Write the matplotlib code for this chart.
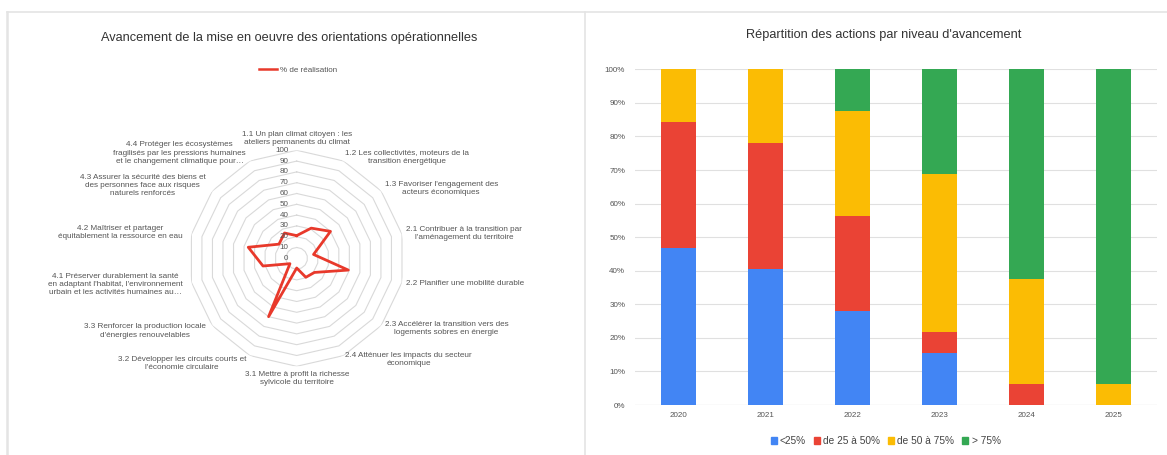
import numpy as np
import matplotlib
matplotlib.use("Agg")
import matplotlib.pyplot as plt
import matplotlib.transforms as mtransforms
from matplotlib.lines import Line2D
from matplotlib.patches import Patch

plt.rcParams['font.family'] = ['Liberation Sans', 'DejaVu Sans']

# Radar data: % de réalisation per orientation (clockwise from the top)
orientations = [
    "1.1 Un plan climat citoyen : les\nateliers permanents du climat",
    "1.2 Les collectivités, moteurs de la\ntransition énergétique",
    "1.3 Favoriser l'engagement des\nacteurs économiques",
    "2.1 Contribuer à la transition par\nl'aménagement du territoire",
    "2.2 Planifier une mobilité durable",
    "2.3 Accélérer la transition vers des\nlogements sobres en énergie",
    "2.4 Atténuer les impacts du secteur\néconomique",
    "3.1 Mettre à profit la richesse\nsylvicole du territoire",
    "3.2 Développer les circuits courts et\nl'économie circulaire",
    "3.3 Renforcer la production locale\nd'énergies renouvelables",
    "4.1 Préserver durablement la santé\nen adaptant l'habitat, l'environnement\nurbain et les activités humaines au…",
    "4.2 Maîtriser et partager\néquitablement la ressource en eau",
    "4.3 Assurer la sécurité des biens et\ndes personnes face aux risques\nnaturels renforcés",
    "4.4 Protéger les écosystèmes\nfragilisés par les pressions humaines\net le changement climatique pour…",
]
realisation = [21, 31, 40, 16, 49, 21, 19.5, 9, 60, 8, 32, 46, 21, 26]
radial_ticks = [0, 10, 20, 30, 40, 50, 60, 70, 80, 90, 100]

# Bar data: number of actions per progress level and year
years = ["2020", "2021", "2022", "2023", "2024", "2025"]
levels = ["<25%", "de 25 à 50%", "de 50 à 75%", "> 75%"]
lt25 = [15, 13, 9, 5, 0, 0]
from25to50 = [12, 12, 9, 2, 2, 0]
from50to75 = [5, 7, 10, 15, 10, 2]
gt75 = [0, 0, 4, 10, 20, 30]
level_colors = ["#4285F4", "#EA4335", "#FBBC04", "#34A853"]

W, H = 1167, 455
fig = plt.figure(figsize=(W / 100, H / 100), dpi=100)

# panel borders
border = "#e4e4e4"
fig.add_artist(Line2D([7 / W, 1], [1 - 12 / H] * 2, color=border, lw=1.2))
fig.add_artist(Line2D([7 / W] * 2, [0, 1 - 12 / H], color=border, lw=1.8))
fig.add_artist(Line2D([585 / W] * 2, [0, 1 - 12 / H], color=border, lw=1.2))

label_color = "#555555"

# ---- Radar chart ----
cx, cy, rad = 296.7, 258.3, 108
ax = fig.add_axes([(cx - rad) / W, (H - cy - rad) / H, 2 * rad / W, 2 * rad / H],
                  projection='polar')
ax.set_theta_zero_location('N')
ax.set_theta_direction(-1)
ax.set_ylim(0, 100)
ax.grid(False)
ax.set_xticks([])
ax.set_yticks([])
ax.spines['polar'].set_visible(False)
ax.patch.set_alpha(0)

n = len(orientations)
angles = np.arange(n) * 2 * np.pi / n
closed = np.append(angles, angles[0])

for r in radial_ticks[1:]:
    ax.plot(closed, [r] * (n + 1), color="#d9d9d9", lw=0.8, zorder=1)

vals = realisation + realisation[:1]
ax.plot(closed, vals, color="#E8392B", lw=2.0, zorder=3)

shift = ax.transData + mtransforms.ScaledTranslation(-8.5 / 100, 0, fig.dpi_scale_trans)
for v in radial_ticks:
    ax.text(0, v, str(v), transform=shift, ha='right', va='center',
            fontsize=5.8, color=label_color)

for ang, lab in zip(angles, orientations):
    s = np.sin(ang)
    if abs(s) < 0.1:
        va = 'bottom' if np.cos(ang) > 0 else 'top'
        ax.text(ang, 104, lab, ha='center', va=va, multialignment='center',
                fontsize=5.9, color=label_color, linespacing=1.25)
    else:
        ha = 'left' if s > 0 else 'right'
        r_lab = 104 if s > 0 else 108
        ax.text(ang, r_lab, lab, ha=ha, va='center', multialignment='center',
                fontsize=5.9, color=label_color, linespacing=1.25)

fig.text(289 / W, 1 - 38 / H, "Avancement de la mise en oeuvre des orientations opérationnelles",
         ha='center', va='center', fontsize=9.2, color="#333333")
fig.legend(handles=[Line2D([], [], color="#E8392B", lw=1.8)], labels=["% de réalisation"],
           loc='center', bbox_to_anchor=(298 / W, 1 - 70 / H), frameon=False,
           fontsize=5.8, handlelength=2.2, handletextpad=0.35, labelcolor=label_color)

# ---- Stacked bar chart ----
bx = fig.add_axes([635 / W, 50 / H, 522 / W, (405 - 69.3) / H])
x = np.arange(len(years))
series = [lt25, from25to50, from50to75, gt75]
totals = np.sum(series, axis=0)
bottom = np.zeros(len(years))
for counts, col in zip(series, level_colors):
    pct = np.array(counts) / totals * 100
    bx.bar(x, pct, bottom=bottom, width=0.4, color=col, zorder=2)
    bottom += pct

bx.set_xlim(-0.5, len(years) - 0.5)
bx.set_ylim(0, 100)
bx.set_yticks(np.arange(0, 101, 10))
bx.set_yticklabels([f"{v}%" for v in range(0, 101, 10)])
bx.set_xticks(x)
bx.set_xticklabels(years)
bx.tick_params(length=0, labelsize=5.8, labelcolor=label_color)
bx.tick_params(axis='y', pad=7)
bx.tick_params(axis='x', pad=5)
bx.grid(axis='y', color="#e0e0e0", lw=0.8)
bx.set_axisbelow(True)
for sp in bx.spines.values():
    sp.set_visible(False)
bx.axhline(0, color="#cccccc", lw=0.8, zorder=1)

fig.text(884 / W, 1 - 35 / H, "Répartition des actions par niveau d'avancement",
         ha='center', va='center', fontsize=9.2, color="#333333")

handles = [Patch(color=c) for c in level_colors]
bx.legend(handles, levels, loc='center', bbox_to_anchor=(0.48, -0.107), ncol=4,
          frameon=False, fontsize=7.3, handlelength=0.6, handleheight=0.6,
          handletextpad=0.3, columnspacing=0.8, labelcolor="#444444")

fig.savefig("out.png", dpi=100)
